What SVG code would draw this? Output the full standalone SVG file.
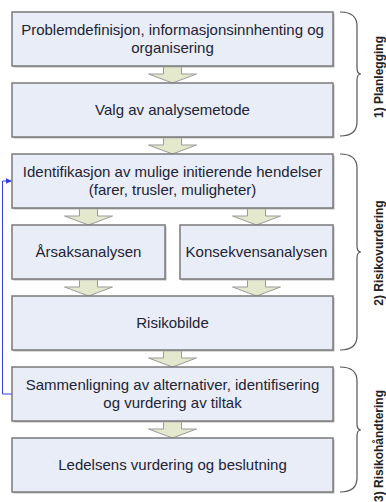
<svg xmlns="http://www.w3.org/2000/svg" width="386" height="502" viewBox="0 0 386 502">
<style>
  .box { fill: #e8edf8; stroke: #7a7a7a; stroke-width: 1.5; }
  .shadow { fill: #b8b8b8; }
  .t { font-family: "Liberation Sans", Arial, sans-serif; font-size: 15px; fill: #232336; text-anchor: middle; }
  .arrow { fill: #e4e8cc; stroke: #9a9a9a; stroke-width: 1; }
  .brace { fill: none; stroke: #555; stroke-width: 1.2; }
  .lbl { font-family: "Liberation Sans", Arial, sans-serif; font-size: 12px; font-weight: bold; fill: #222; text-anchor: middle; }
  .fb { fill: none; stroke: #2f3fd8; stroke-width: 1; }
</style>
<defs>
  <marker id="ah" markerWidth="7" markerHeight="7" refX="6" refY="3.5" orient="auto" markerUnits="userSpaceOnUse">
    <path d="M0,0.5 L6.5,3.5 L0,6.5 Z" fill="#2f3fd8"/>
  </marker>
</defs>
<rect width="386" height="502" fill="#ffffff"/>

<g id="connectors">
  <path class="arrow" d="M163.5,66 L181.5,66 L181.5,74 L196.5,74 L172.5,83 L148.5,74 L163.5,74 Z"/>
  <path class="arrow" d="M163.5,137 L181.5,137 L181.5,145 L196.5,145 L172.5,154 L148.5,145 L163.5,145 Z"/>
  <path class="arrow" d="M79.5,208 L97.5,208 L97.5,216 L112.5,216 L88.5,225 L64.5,216 L79.5,216 Z"/>
  <path class="arrow" d="M247.5,208 L265.5,208 L265.5,216 L280.5,216 L256.5,225 L232.5,216 L247.5,216 Z"/>
  <path class="arrow" d="M79.5,279 L97.5,279 L97.5,287 L112.5,287 L88.5,296 L64.5,287 L79.5,287 Z"/>
  <path class="arrow" d="M247.5,279 L265.5,279 L265.5,287 L280.5,287 L256.5,296 L232.5,287 L247.5,287 Z"/>
  <path class="arrow" d="M163.5,350 L181.5,350 L181.5,358 L196.5,358 L172.5,367 L148.5,358 L163.5,358 Z"/>
  <path class="arrow" d="M163.5,421 L181.5,421 L181.5,429 L196.5,429 L172.5,438 L148.5,429 L163.5,429 Z"/>
  <path class="fb" d="M12,394 L2.5,394 L2.5,181 L11.5,181" marker-end="url(#ah)"/>
</g>

<g id="n1">
  <rect class="shadow" x="13.5" y="13.5" width="321" height="54"/>
  <rect class="box" x="12" y="12" width="321" height="54"/>
  <text class="t" x="172.5" y="35">Problemdefinisjon, informasjonsinnhenting og</text>
  <text class="t" x="172.5" y="53">organisering</text>
</g>
<g id="n2">
  <rect class="shadow" x="13.5" y="84.5" width="321" height="54"/>
  <rect class="box" x="12" y="83" width="321" height="54"/>
  <text class="t" x="172.5" y="115">Valg av analysemetode</text>
</g>
<g id="n3">
  <rect class="shadow" x="13.5" y="155.5" width="321" height="54"/>
  <rect class="box" x="12" y="154" width="321" height="54"/>
  <text class="t" x="172.5" y="177">Identifikasjon av mulige initierende hendelser</text>
  <text class="t" x="172.5" y="195">(farer, trusler, muligheter)</text>
</g>
<g id="n4">
  <rect class="shadow" x="13.5" y="226.5" width="153" height="54"/>
  <rect class="box" x="12" y="225" width="153" height="54"/>
  <text class="t" x="88.5" y="257">Årsaksanalysen</text>
</g>
<g id="n5">
  <rect class="shadow" x="181.5" y="226.5" width="153" height="54"/>
  <rect class="box" x="180" y="225" width="153" height="54"/>
  <text class="t" x="256.5" y="257">Konsekvensanalysen</text>
</g>
<g id="n6">
  <rect class="shadow" x="13.5" y="297.5" width="321" height="54"/>
  <rect class="box" x="12" y="296" width="321" height="54"/>
  <text class="t" x="172.5" y="328">Risikobilde</text>
</g>
<g id="n7">
  <rect class="shadow" x="13.5" y="368.5" width="321" height="54"/>
  <rect class="box" x="12" y="367" width="321" height="54"/>
  <text class="t" x="172.5" y="390">Sammenligning av alternativer, identifisering</text>
  <text class="t" x="172.5" y="408">og vurdering av tiltak</text>
</g>
<g id="n8">
  <rect class="shadow" x="13.5" y="439.5" width="321" height="54"/>
  <rect class="box" x="12" y="438" width="321" height="54"/>
  <text class="t" x="172.5" y="470">Ledelsens vurdering og beslutning</text>
</g>

<g id="phase1">
  <path class="brace" d="M340,12 C350,12 357,15 357,26 L357,68 C357,72 359,74 361,74 C359,74 357,76 357,80 L357,122 C357,133 350,136 340,136"/>
  <text class="lbl" transform="translate(383,77) rotate(-90)">1) Planlegging</text>
</g>
<g id="phase2">
  <path class="brace" d="M340,154 C350,154 357,157 357,168 L357,246 C357,250 359,252 361,252 C359,252 357,254 357,258 L357,336 C357,347 350,350 340,350"/>
  <text class="lbl" transform="translate(383,253) rotate(-90)">2) Risikovurdering</text>
</g>
<g id="phase3">
  <path class="brace" d="M340,367 C350,367 357,370 357,381 L357,424 C357,428 359,430 361,430 C359,430 357,432 357,436 L357,478 C357,489 350,492 340,492"/>
  <text class="lbl" transform="translate(383,446) rotate(-90)">3) Risikohåndtering</text>
</g>
</svg>
